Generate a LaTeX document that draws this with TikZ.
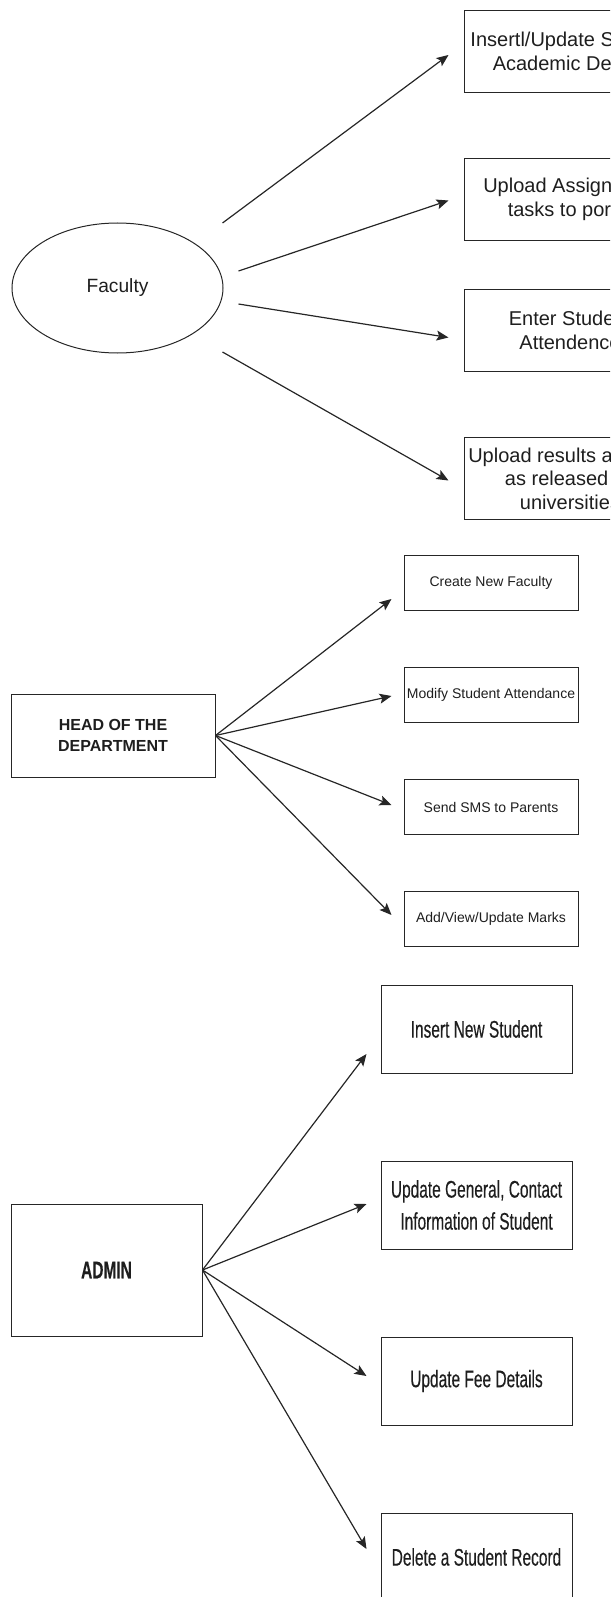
\documentclass[tikz,border=0pt]{standalone}
\usepackage{fontspec}
\setmainfont{Liberation Sans}
\newfontfamily\narrowfont[FakeStretch=0.645, FakeBold=0.3]{Liberation Sans}
\usepackage{xcolor}
\usepackage{tikz}
\usetikzlibrary{shapes.geometric, arrows.meta, positioning, calc}
\definecolor{UC_DARK}{HTML}{262626}
\definecolor{UC_TEXT}{HTML}{1e1e1e}
\tikzset{
  actor/.style={
    ellipse, minimum width=211pt, minimum height=130pt,
    inner sep=0pt, text centered, align=center,
    draw=UC_DARK, line width=1pt, text=UC_TEXT,
    font=\fontsize{19.2}{23}\selectfont},
  fbox/.style={
    rectangle, minimum width=212pt, minimum height=82pt,
    inner sep=0pt, text centered, align=center,
    draw=UC_DARK, line width=1pt, text=UC_TEXT,
    font=\fontsize{20}{23.5}\selectfont},
  role/.style={
    rectangle, minimum width=204pt, minimum height=83pt,
    inner sep=0pt, text centered, align=center,
    draw=UC_DARK, line width=1pt, text=UC_TEXT,
    font=\fontsize{16}{20.7}\selectfont\bfseries},
  hbox/.style={
    rectangle, minimum width=174pt, minimum height=55pt,
    inner sep=0pt, text centered, align=center,
    draw=UC_DARK, line width=1pt, text=UC_TEXT,
    font=\fontsize{14}{17}\selectfont},
  adminbox/.style={
    rectangle, minimum width=191pt, minimum height=132pt,
    inner sep=0pt, text centered, align=center,
    draw=UC_DARK, line width=1pt, text=UC_TEXT,
    font=\narrowfont\fontsize{24}{32}\selectfont\bfseries},
  abox/.style={
    rectangle, minimum width=191pt, minimum height=88pt,
    inner sep=0pt, text centered, align=center,
    draw=UC_DARK, line width=1pt, text=UC_TEXT,
    font=\narrowfont\fontsize{24}{32}\selectfont},
  arr/.style={-{Stealth[length=12pt,width=10pt,inset=2.5pt]}, line width=1.2pt, color=UC_DARK},
}

\begin{document}
\begin{tikzpicture}[x=1pt, y=-1pt, node distance=56pt]

  \useasboundingbox (0,0) rectangle (610,1597);
  \clip (0,0) rectangle (610,1597);

  \node[actor] (fac) at (117.5,288) {Faculty};

  \node[fbox] (ins) at (570,51.5)
    {Insertl/Update Student\\Academic Details};
  \node[fbox, below=65pt of ins] (upl)
    {Upload Assignment\\tasks to portal};
  \node[fbox, below=48pt of upl] (att)
    {Enter Student\\Attendence};
  \node[fbox, below=65pt of att] (res)
    {Upload results as soon\\as released by\\universities};

  \node[role] (hod) at (113,735.5) {HEAD OF THE\\DEPARTMENT};

  \node[hbox] (cnf) at (491,583) {Create New Faculty};
  \node[hbox, below=of cnf] (msa) {Modify Student Attendance};
  \node[hbox, below=of msa] (sms) {Send SMS to Parents};
  \node[hbox, below=of sms] (mrk) {Add/View/Update Marks};

  \node[adminbox] (adm) at (106.5,1270) {ADMIN};

  \node[abox] (nst) at (476.5,1029) {Insert New Student};
  \node[abox, below=87pt of nst] (gen)
    {Update General, Contact\\Information of Student};
  \node[abox, below=87pt of gen] (fee) {Update Fee Details};
  \node[abox, below=87pt of fee] (del) {Delete a Student Record};

  \draw[arr] ($(fac.east)+(-1,-65)$) -- ($(ins.west)+(-15,3.5)$);
  \draw[arr] ($(fac.east)+(15,-17)$) -- ($(upl.west)+(-15,1)$);
  \draw[arr] ($(fac.east)+(15,16)$)  -- ($(att.west)+(-15,7)$);
  \draw[arr] ($(fac.east)+(-1,64)$)  -- ($(res.west)+(-15,2)$);

  \draw[arr] (hod.east) -- ($(cnf.west)+(-12,16)$);
  \draw[arr] (hod.east) -- ($(msa.west)+(-12,1)$);
  \draw[arr] (hod.east) -- ($(sms.west)+(-12,-2)$);
  \draw[arr] (hod.east) -- ($(mrk.west)+(-12,-4)$);

  \draw[arr] (adm.east) -- ($(nst.west)+(-14,25)$);
  \draw[arr] (adm.east) -- ($(gen.west)+(-14,-1)$);
  \draw[arr] (adm.east) -- ($(fee.west)+(-14,-5)$);
  \draw[arr] (adm.east) -- ($(del.west)+(-14,-8)$);

\end{tikzpicture}
\end{document}
